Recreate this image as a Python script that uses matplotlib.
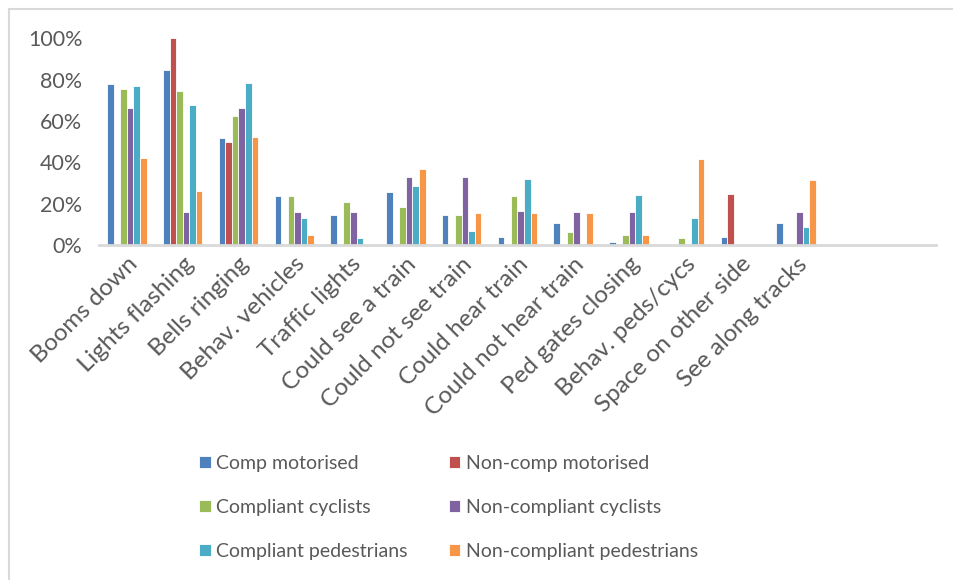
import numpy as np
import matplotlib
matplotlib.use("Agg")
import matplotlib.pyplot as plt
from matplotlib.patches import Rectangle
from matplotlib.transforms import ScaledTranslation

plt.rcParams['font.family'] = ['Lato', 'DejaVu Sans']

categories = ["Booms down", "Lights flashing", "Bells ringing", "Behav. vehicles",
              "Traffic lights", "Could see a train", "Could not see train",
              "Could hear train", "Could not hear train", "Ped gates closing",
              "Behav. peds/cycs", "Space on other side", "See along tracks", "", ""]

series_names = ["Comp motorised", "Non-comp motorised", "Compliant cyclists",
                "Non-compliant cyclists", "Compliant pedestrians", "Non-compliant pedestrians"]

# values in % (two trailing empty categories)
comp_motorised = [78, 84.5, 52, 23.5, 14.7, 25.8, 14.7, 3.9, 10.5, 1.6, 0, 3.9, 10.5, 0, 0]
noncomp_motorised = [0, 100, 49.6, 0, 0, 0, 0, 0, 0, 0, 0, 24.6, 0, 0, 0]
comp_cyclists = [75.7, 74.4, 62.5, 23.5, 21, 18.4, 14.3, 23.7, 6.1, 4.7, 3.4, 0, 0.6, 0, 0]
noncomp_cyclists = [66.5, 16.1, 66.5, 16.1, 16.1, 33, 33, 16.4, 16.1, 16.1, 0, 0, 16.1, 0, 0]
comp_peds = [77, 67.8, 78.3, 12.9, 3.6, 28.5, 6.8, 31.7, 0.5, 24.3, 13, 0, 8.8, 0, 0]
noncomp_peds = [41.9, 26, 52.3, 4.8, 0, 36.6, 15.3, 15.3, 15.3, 4.7, 41.7, 0, 31.4, 0, 0]

series = [comp_motorised, noncomp_motorised, comp_cyclists,
          noncomp_cyclists, comp_peds, noncomp_peds]
colors = ["#4F81BD", "#C0504D", "#9BBB59", "#8064A2", "#4BACC6", "#F79646"]

text_color = "#595959"
grid_color = "#D9D9D9"

fig = plt.figure(figsize=(9.54, 5.8), dpi=100)
ax = fig.add_axes([0.1038, 0.5776, 0.877, 0.3564])

x = np.arange(len(categories))
w = 0.118
for i, (vals, c, name) in enumerate(zip(series, colors, series_names)):
    ax.bar(x + (i - 2.5) * w, np.array(vals) / 100, width=w, color=c,
           edgecolor="white", linewidth=0.6, label=name)

ax.set_xlim(-0.5, len(categories) - 0.5)
ax.set_ylim(0, 1.0)
ax.set_yticks(np.arange(0, 1.01, 0.2))
ax.set_yticklabels([f"{int(round(v * 100))}%" for v in np.arange(0, 1.01, 0.2)])
ax.set_xticks(x)
ax.set_xticklabels(categories, rotation=45, ha="right", va="top", rotation_mode="anchor")
# nudge category labels right/down like the original
for lbl in ax.get_xticklabels():
    lbl.set_transform(lbl.get_transform() + ScaledTranslation(0.25, -0.25, fig.dpi_scale_trans))

for s in ["top", "right", "left"]:
    ax.spines[s].set_visible(False)
ax.spines["bottom"].set_color(grid_color)
ax.spines["bottom"].set_linewidth(2)
ax.tick_params(axis="both", length=0, colors=text_color)
ax.tick_params(axis="y", pad=12, labelsize=15.5)
ax.tick_params(axis="x", pad=6, labelsize=17.5)

# chart border
fig.patches.append(Rectangle((9 / 954, -0.1), 1.2, 1.1 - 9 / 580,
                             transform=fig.transFigure, fill=False,
                             edgecolor=grid_color, linewidth=1.5))

handles, labels = ax.get_legend_handles_labels()
order = [0, 2, 4, 1, 3, 5]
leg = fig.legend([handles[k] for k in order], [labels[k] for k in order],
                 ncol=2, loc="upper left", bbox_to_anchor=(182 / 954, 1 - 437 / 580),
                 frameon=False, fontsize=14, handlelength=0.57, handleheight=0.57,
                 handletextpad=0.3, columnspacing=2.1, labelspacing=1.4,
                 labelcolor=text_color)

fig.savefig("out.png", dpi=100)
